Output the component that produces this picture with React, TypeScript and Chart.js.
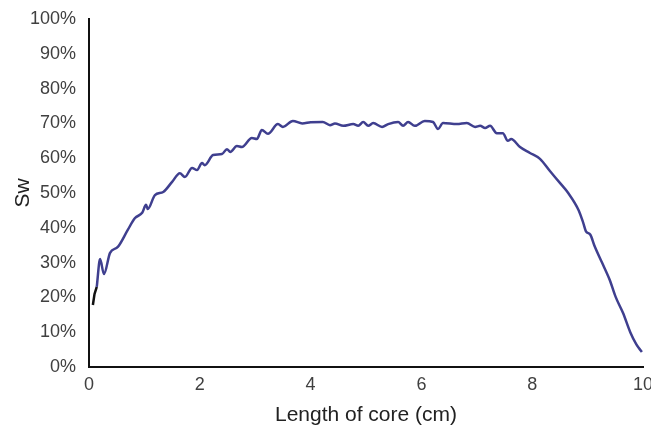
import React, { useEffect, useRef } from "react";
import { Chart, registerables } from "chart.js";

Chart.register(...registerables);

// Length of core (cm) and water saturation Sw (%)
const startX: number[] = [0.07, 0.1, 0.14];
const startSw: number[] = [17.8, 21.0, 23.0];

const coreX: number[] = [
  0.14, 0.2, 0.27, 0.38, 0.52, 0.7, 0.83, 0.96, 1.03, 1.06, 1.19, 1.34, 1.5,
  1.64, 1.73, 1.86, 1.95, 2.04, 2.09, 2.24, 2.4, 2.49, 2.55, 2.67, 2.76, 2.94,
  3.03, 3.12, 3.23, 3.41, 3.5, 3.68, 3.85, 4.0, 4.22, 4.35, 4.44, 4.59, 4.77,
  4.86, 4.95, 5.04, 5.13, 5.29, 5.4, 5.58, 5.67, 5.76, 5.88, 6.06, 6.21, 6.3,
  6.39, 6.64, 6.82, 6.97, 7.06, 7.15, 7.24, 7.36, 7.47, 7.56, 7.62, 7.78, 7.96,
  8.14, 8.32, 8.5, 8.65, 8.84, 8.92, 8.97, 9.05, 9.12, 9.26, 9.4, 9.51, 9.64,
  9.77, 9.88, 9.98,
];
const coreSw: number[] = [
  23.0, 31.0, 26.7, 32.8, 34.5, 39.4, 42.8, 44.3, 46.6, 45.4, 49.4, 50.3, 53.2,
  55.7, 54.6, 57.2, 56.6, 58.6, 58.0, 60.9, 61.2, 62.6, 61.8, 63.5, 63.2, 65.8,
  65.5, 68.1, 67.0, 69.8, 69.0, 70.7, 70.0, 70.3, 70.4, 69.5, 70.0, 69.3, 69.8,
  69.3, 70.4, 69.3, 70.1, 69.0, 69.8, 70.4, 69.3, 70.4, 69.3, 70.7, 70.4, 68.4,
  70.1, 69.8, 70.1, 69.0, 69.3, 68.7, 69.3, 67.2, 67.2, 65.0, 65.5, 63.2, 61.5,
  59.8, 56.3, 52.9, 50.0, 45.0, 41.5, 39.0, 38.0, 35.0, 30.0, 25.0, 20.0, 15.5,
  10.0, 6.5, 4.3,
];

const xTitle = "Length of core (cm)";
const yTitle = "Sw";

export default function App() {
  const ref = useRef<HTMLCanvasElement | null>(null);

  useEffect(() => {
    if (!ref.current) return;
    const chart = new Chart(ref.current, {
      type: "line",
      data: {
        datasets: [
          {
            data: coreX.map((x, i) => ({ x, y: coreSw[i] })),
            borderColor: "#3f3f8f",
            borderWidth: 2.5,
            pointRadius: 0,
            tension: 0.4,
            cubicInterpolationMode: "monotone",
            fill: false,
          },
          {
            data: startX.map((x, i) => ({ x, y: startSw[i] })),
            borderColor: "#111111",
            borderWidth: 2.5,
            pointRadius: 0,
            fill: false,
          },
        ],
      },
      options: {
        responsive: false,
        animation: false,
        layout: { padding: { left: 0, top: 19, right: 8, bottom: 0 } },
        plugins: { legend: { display: false }, tooltip: { enabled: false } },
        scales: {
          x: {
            type: "linear",
            min: 0,
            max: 10,
            ticks: {
              stepSize: 2,
              padding: 7,
              color: "#404040",
              font: { family: "'Liberation Sans', Arial, sans-serif", size: 18 },
              maxRotation: 0,
            },
            grid: { display: false, drawTicks: false },
            border: { display: true, color: "#111111", width: 2 },
            title: {
              display: true,
              text: xTitle,
              color: "#222222",
              font: { family: "'Liberation Sans', Arial, sans-serif", size: 21, lineHeight: 0.9 },
              padding: { top: 9, bottom: 0 },
            },
            afterFit: (s: any) => {
              s.height = 58;
              s.paddingLeft = 0;
              s.paddingRight = 0;
            },
          },
          y: {
            type: "linear",
            min: 0,
            max: 100,
            ticks: {
              stepSize: 10,
              padding: 13,
              color: "#404040",
              font: { family: "'Liberation Sans', Arial, sans-serif", size: 18 },
              callback: (v: any) => `${v}%`,
            },
            grid: { display: false, drawTicks: false },
            border: { display: true, color: "#111111", width: 2 },
            title: {
              display: true,
              text: yTitle,
              color: "#222222",
              font: { family: "'Liberation Sans', Arial, sans-serif", size: 21 },
              padding: { top: 11, bottom: 0 },
            },
            afterFit: (s: any) => {
              s.width = 89;
              s.paddingTop = 0;
              s.paddingBottom = 0;
            },
          },
        },
      },
    });
    return () => chart.destroy();
  }, []);

  return (
    <div style={{ position: "absolute", left: 0, top: 0, width: 651, height: 425, background: "#fff" }}>
      <canvas ref={ref} width={651} height={425} style={{ display: "block" }} />
    </div>
  );
}
